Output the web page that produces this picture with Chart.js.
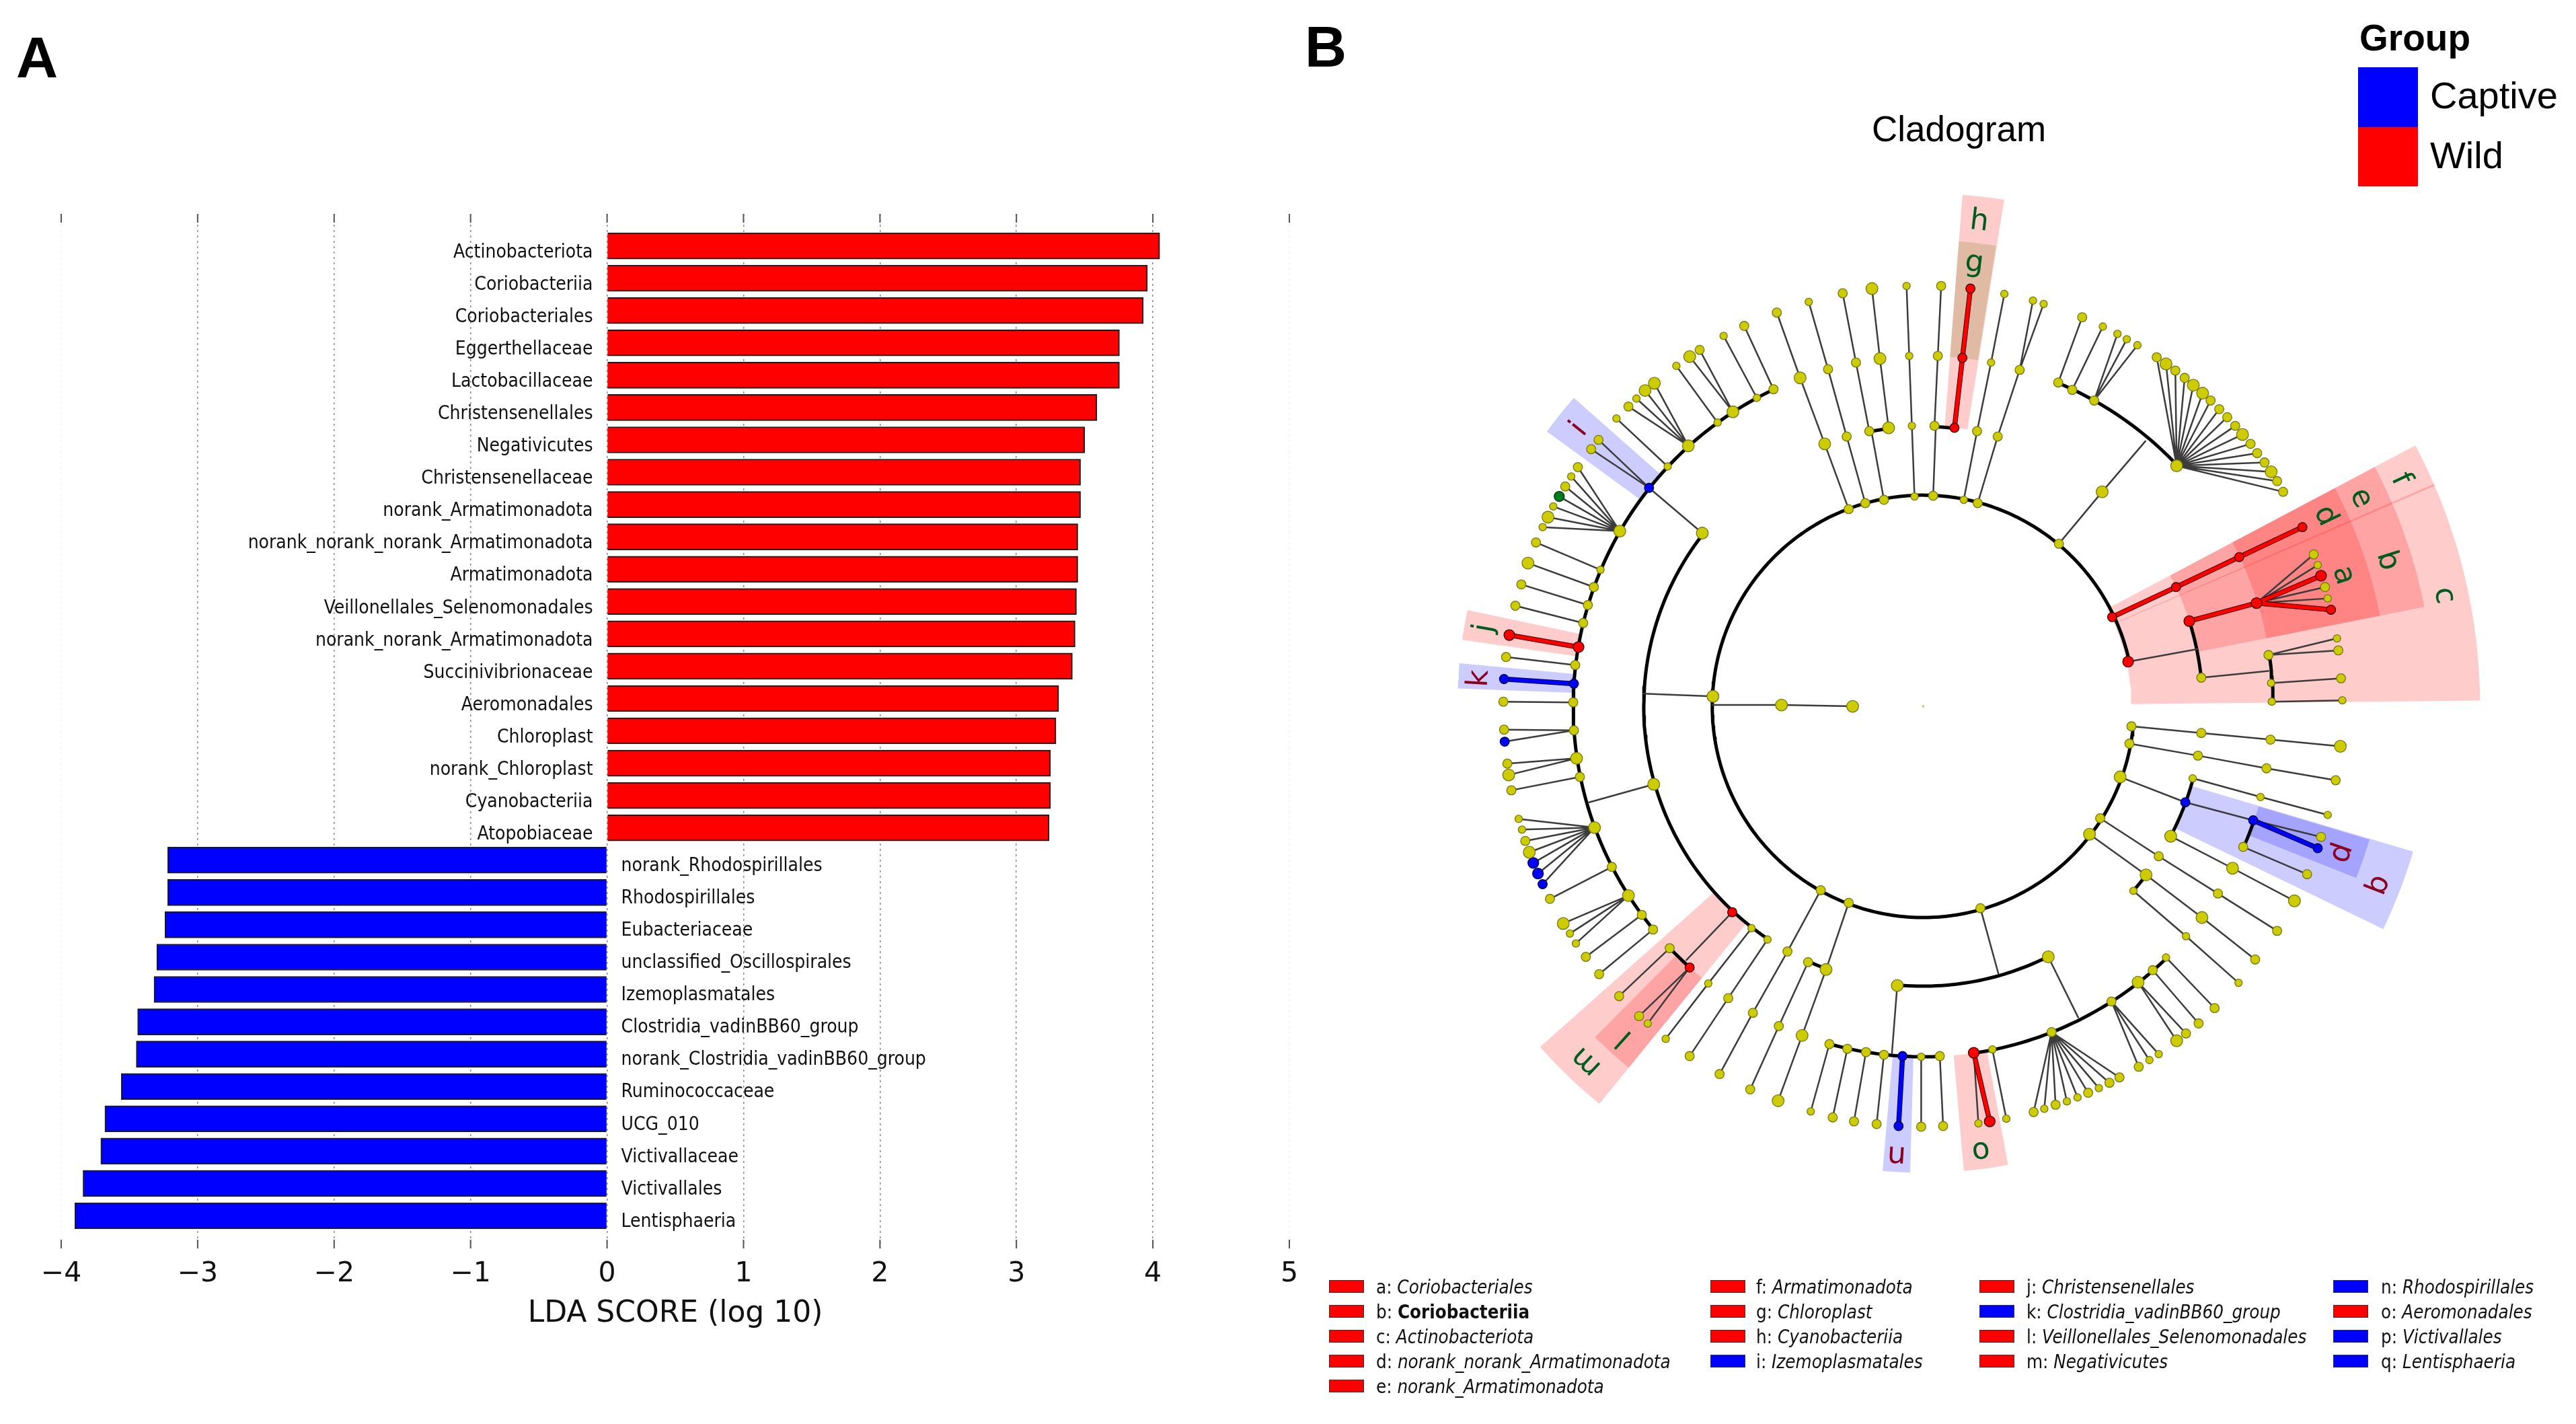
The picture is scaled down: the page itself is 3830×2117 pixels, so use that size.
<!DOCTYPE html>
<html>
<head>
<meta charset="utf-8">
<title>LDA score and cladogram</title>
<script src="https://cdn.jsdelivr.net/npm/chart.js@4/dist/chart.umd.min.js"></script>
<style>
    html, body { margin: 0; background: #fff; width: 3830px; height: 2117px; overflow: hidden; }
    canvas { position: absolute; top: 0; }
    #chartA { left: 0; }
    #chartB { left: 1960px; }
    .txt { position: absolute; white-space: nowrap; color: #000; line-height: 1; }
    .panel { font: bold 86px "Liberation Sans"; }
    .sw { position: absolute; }
    .lg { font-family: "DejaVu Sans"; font-stretch: condensed; font-size: 27.5px; font-style: italic; color: #111; }
    .lg span { font-style: normal; }
    .lg b { font-style: normal; }
    .key { position: absolute; width: 50px; height: 17px; border: 1.5px solid #333; }
</style>
</head>
<body>
<canvas id="chartA" width="1960" height="2117"></canvas>
<canvas id="chartB" width="1870" height="2117"></canvas>
<div id="overlay"></div>
<script>
// panel A
const wildNames = ['Actinobacteriota', 'Coriobacteriia', 'Coriobacteriales', 'Eggerthellaceae', 'Lactobacillaceae',
    'Christensenellales', 'Negativicutes', 'Christensenellaceae', 'norank_Armatimonadota',
    'norank_norank_norank_Armatimonadota', 'Armatimonadota', 'Veillonellales_Selenomonadales',
    'norank_norank_Armatimonadota', 'Succinivibrionaceae', 'Aeromonadales', 'Chloroplast', 'norank_Chloroplast',
    'Cyanobacteriia', 'Atopobiaceae'];
const wildScores = [4.05, 3.96, 3.93, 3.755, 3.755, 3.59, 3.50, 3.47, 3.47, 3.45, 3.45, 3.44, 3.43, 3.41, 3.31, 3.29, 3.25, 3.25, 3.24];
const captiveNames = ['norank_Rhodospirillales', 'Rhodospirillales', 'Eubacteriaceae', 'unclassified_Oscillospirales',
    'Izemoplasmatales', 'Clostridia_vadinBB60_group', 'norank_Clostridia_vadinBB60_group', 'Ruminococcaceae',
    'UCG_010', 'Victivallaceae', 'Victivallales', 'Lentisphaeria'];
const captiveScores = [-3.22, -3.22, -3.24, -3.30, -3.32, -3.44, -3.45, -3.56, -3.68, -3.71, -3.84, -3.90];
const scoreTicks = ['\u22124', '\u22123', '\u22122', '\u22121', '0', '1', '2', '3', '4', '5'];
const scoreTitle = 'LDA SCORE (log 10)';

// panel B, tree values relative to the centre of the tree
const ringArcs = [[317, 12.3, 354.5],
    [420, 141.9, 236.2], [420, 5.9, 17.7], [420, -27.7, -14.9], [420, -41.2, -37.1], [420, 97.1, 101.1],
    [420, 83.6, 87.7], [420, 245.7, 249.7], [420, 264.7, 296.6],
    [526, 43.5, 67.3], [526, 115.3, 219.5], [526, 0.8, 8.4], [526, -23.7, -19], [526, 254.5, 272.7],
    [526, 278.3, 314.1], [526, 223.6, 228.2]];

const branches = [
    [[-106, 0], [-213, 2], [-317, 2]], [[-316, 15], [-420, 19]], [[-332, 260], [-412, 328]],
    [[-384, 360], [-461, 432]], [[-309, 426], [-371, 511]], [[-250, 463], [-300, 556]], [[-225, 476], [-269, 571]],
    [[-485, 205], [-582, 246]], [[-495, 179], [-594, 215]], [[-504, 152], [-604, 183]], [[-511, 125], [-613, 151]],
    [[-523, 62], [-627, 74]], [[-526, 6], [-631, 7]], [[-516, -106], [-619, -126]],
    [[-405, -117], [-502, -144]], [[-468, -241], [-561, -289]], [[-423, -313], [-507, -376]], [[-406, -335], [-487, -402]],
    [[-287, -309], [-356, -381]], [[-381, -363], [-457, -435]],
    [[-141, -507], [-169, -608]], [[-114, -514], [-136, -617]], [[-86, -519], [-104, -623]], [[-59, -523], [-70, -627]],
    [[-3, -526], [-3, -631]], [[25, -525], [30, -630]], [[-39, -419], [-47, -521]], [[86, -303], [113, -401]], [[188, -376], [233, -467]],
    [[76, -520], [83, -626]], [[104, -515], [125, -619]], [[345, -396], [414, -476]], [[365, -377], [438, -453]],
    [[-112, -295], [-146, -395], [-182, -494], [-218, -592]], [[-173, -384], [-217, -480], [-260, -575]],
    [[-154, -276], [-204, -368], [-256, -460], [-306, -552]], [[-258, -333], [-323, -416], [-387, -499]],
    [[-234, -350], [-293, -438], [-351, -525]],
    [[313, -30], [418, -40], [522, -50], [627, -60]], [[310, -56], [413, -74], [516, -93], [620, -111]],
    [[296, -106], [394, -144], [496, -171]], [[405, -108], [507, -136], [608, -163]], [[372, -195], [465, -243], [558, -292]],
    [[496, -171], [598, -196]], [[481, -211], [577, -252]], [[266, -168], [354, -225], [443, -281], [532, -337]],
    [[250, -192], [335, -253], [419, -317], [499, -380]], [[316, -277], [395, -345], [474, -415]],
    [[308, 67], [412, 86]], [[418, 43], [519, 53]], [[523, 35], [628, 42]], [[524, 7], [630, 9]],
    [[204, 244], [269, 322], [334, 398]], [[203, 486], [239, 584]], [[224, 475], [270, 570]],
    [[-59, 310], [-78, 414]], [[-81, 413], [-101, 516], [-121, 620]], [[-52, 418], [-65, 522], [-77, 627]],
    [[15, 316], [19, 421]], [[17, 421], [22, 526], [27, 631]], [[-13, 315], [-17, 421], [-21, 526], [-25, 631]],
    [[61, 310], [81, 413], [102, 516], [122, 619]], [[82, 305], [112, 405], [145, 505]],
    [[-112, 296], [-148, 394], [-185, 493], [-220, 591]], [[-87, 305], [-115, 405], [-143, 506], [-172, 607]]
];

const fans = [
    [[-412, 328], [[-488, 400], [-499, 386]]],
    [[-353, 391], [[-443, 450], [-431, 462], [-418, 474], [-404, 485]]],
    [[-286, 442], [[-351, 525], [-336, 535]]],
    [[-456, 263], [[-519, 359], [-529, 345], [-538, 330], [-547, 315], [-556, 300], [-564, 284], [-572, 269]]],
    [[-525, -36], [[-630, -35], [-629, -53]]],
    [[-521, -78], [[-625, -86], [-623, -103]]],
    [[-494, -182], [[-608, -169], [-603, -185], [-598, -202], [-592, -219], [-586, -235], [-579, -251], [-572, -267]]],
    [[-443, -284], [[-541, -326], [-531, -341], [-522, -356]]],
    [[-351, -392], [[-427, -465], [-414, -476]]],
    [[193, -489], [[166, -609], [182, -604], [199, -598], [216, -593], [232, -587], [248, -580], [264, -573], [280, -565], [295, -557]]],
    [[283, -443], [[324, -541], [340, -531], [354, -522]]],
    [[323, -414], [[381, -502], [395, -491]]],
    [[519, 77], [[622, 102], [624, 84]]],
    [[501, 155], [[587, 228], [593, 212], [604, 179], [608, 162]]],
    [[381, 361], [[351, 524], [365, 514], [379, 504], [393, 493], [406, 482], [420, 470], [432, 459], [445, 446], [457, 434],
        [469, 421], [480, 408], [492, 394], [502, 380], [513, 366], [523, 352], [532, 338], [541, 322]]],
    [[257, 459], [[292, 559], [306, 551], [322, 542]]],
    [[145, 505], [[165, 609], [181, 604]]]
];

const redBranches = [[[284, 134], [380, 179], [475, 224], [570, 269]], [[400, 128], [501, 155], [598, 196]], [[501, 155], [613, 145]],
    [[47, 418], [59, 523], [71, 627]], [[-518, 89], [-622, 107]], [[76, -520], [100, -623]]];
const blueBranches = [[[-525, 34], [-630, 41]], [[-31, -525], [-37, -630]], [[496, -171], [593, -213]]];

const smallNodes = [[-384, 360], [-309, 426], [-250, 463], [-485, 205], [-461, 432], [-431, 462], [-371, 511], [-300, 556],
    [-529, 345], [-556, 300], [-572, 269], [-608, -169], [-603, -185], [-531, -341], [-522, -356], [-414, -476], [-258, -333],
    [-234, -350], [-323, -416], [-387, -499], [-3, -526], [-169, -608], [104, -515], [83, -626], [125, -619],
    [182, -604], [216, -593], [232, -587], [264, -573], [340, -531], [354, -522], [365, -377], [405, -108], [507, -136], [608, -163],
    [316, -277], [395, -345], [474, -415], [523, 35], [524, 7], [622, 102], [630, 9], [593, 212], [608, 162],
    [270, 570], [292, 559], [306, 551], [322, 542], [-172, 607], [-17, 421], [-13, 315], [-21, 526], [-25, 631],
    [61, 310], [102, 516], [122, 619], [165, 609], [181, 604]];
const midNodes = [[-225, 476], [-443, 450], [-336, 535], [-269, 571], [-519, 359], [-538, 330], [-582, 246], [-495, 179],
    [-504, 152], [-511, 125], [-604, 183], [-613, 151], [-523, 62], [-627, 74], [-526, 6], [-631, 7], [-525, -36], [-630, -35],
    [-488, 400], [-499, 386], [-625, -86], [-516, -106], [-619, -126], [-598, -202], [-468, -241], [-561, -289], [-423, -313],
    [-507, -376], [-406, -335], [-487, -402], [-381, -363], [-457, -435], [-427, -465], [-293, -438], [-351, -525],
    [-154, -276], [-204, -368], [-256, -460], [-306, -552], [-112, -295], [-173, -384], [-217, -480], [-260, -575],
    [-141, -507], [-114, -514], [-86, -519], [-59, -523], [25, -525], [-136, -617], [-104, -623], [-70, -627], [-3, -631], [30, -630],
    [193, -489], [283, -443], [345, -396], [166, -609], [199, -598], [248, -580], [280, -565], [295, -557], [324, -541], [395, -491],
    [414, -476], [438, -453], [86, -303], [313, -30], [418, -40], [522, -50], [310, -56], [413, -74], [516, -93], [620, -111],
    [598, -196], [481, -211], [577, -252], [266, -168], [354, -225], [443, -281], [532, -337], [499, -380],
    [418, 43], [519, 77], [624, 84], [628, 42], [587, 228], [604, 179], [204, 244], [257, 459], [224, 475], [203, 486], [239, 584],
    [351, 524], [379, 504], [393, 493], [432, 459], [445, 446], [457, 434], [469, 421], [492, 394], [502, 380], [513, 366], [532, 338], [541, 322],
    [-112, 296], [-220, 591], [-87, 305], [-115, 405], [-143, 506], [-59, 310], [-81, 413], [-101, 516], [-121, 620],
    [15, 316], [17, 421], [22, 526], [27, 631], [81, 413], [82, 305], [112, 405], [145, 505]];
const largeNodes = [[-353, 391], [-286, 442], [-418, 474], [-404, 485], [-351, 525], [-456, 263], [-564, 284], [-594, 215],
    [-521, -78], [-623, -103], [-494, -182], [-592, -219], [-443, -284], [-541, -326], [-332, 260], [-405, -117], [-316, 15], [-213, 2], [-106, 0],
    [-146, -395], [-182, -494], [-218, -592], [-39, -419], [188, -376], [323, -414], [381, -502],
    [627, -60], [296, -106], [372, -195], [465, -243], [558, -292], [250, -192], [335, -253], [419, -317],
    [269, 322], [381, 361], [365, 514], [406, 482], [420, 470], [480, 408], [523, 352],
    [-148, 394], [-185, 493], [-52, 418], [-65, 522], [-77, 627]];
const redMidNodes = [[284, 134], [380, 179], [475, 224], [570, 269], [613, 145], [47, 418], [59, 523], [71, 627], [-287, -309], [-351, -392]];
const redLargeNodes = [[-622, 107], [-518, 89], [308, 67], [400, 128], [501, 155], [598, 196], [76, -520], [100, -623]];
const blueMidNodes = [[-412, 328], [-525, 34], [-630, 41], [-629, -53], [-572, -267], [-31, -525], [-37, -630], [394, -144], [496, -171], [593, -213]];
const blueLargeNodes = [[-586, -235], [-579, -251]];
const greenNodes = [[-547, 315]];
const rootNode = [[0, 0]];

// inner radius, outer radius, from angle, to angle
const redBands = [[313, 837, 0.6, 23.5], [313, 837, 23.3, 27.9], [420, 768, 11.2, 23.4], [420, 768, 23.4, 27.9],
    [526, 700, 11.2, 23.4], [526, 700, 23.4, 27.9], [421, 770, 80.9, 85.6], [526, 700, 168.1, 171.8],
    [421, 770, 221.6, 230.8], [526, 700, 225.2, 230.8], [526, 700, 275, 280.5]];
const chloroplastBand = [[526, 700, 81, 85.6]];
const blueBands = [[526, 700, 138.6, 143.9], [526, 700, 174.7, 177.8], [526, 700, 265, 268.4],
    [421, 768, -25.8, -16.5], [526, 700, -21.6, -16.6]];

// letter, radius, angle
const wildLetters = [['a', 661, 17.3], ['b', 731, 17.4], ['c', 800, 12], ['d', 668, 25.3], ['e', 728, 25.4], ['f', 794, 25.4],
    ['g', 669, 83.4], ['h', 732, 83.4], ['j', 669, 169.9], ['l', 670, 228], ['m', 735, 226.5], ['o', 672, 277.4]];
const captiveLetters = [['i', 663, 141.2], ['k', 668, 176.4], ['n', 674, 266.6], ['p', 666, -19.3], ['q', 735, -21.4]];

const legendColumns = [
    [['a', 'Coriobacteriales', 'r'], ['b', 'Coriobacteriia', 'r'], ['c', 'Actinobacteriota', 'r'], ['d', 'norank_norank_Armatimonadota', 'r'], ['e', 'norank_Armatimonadota', 'r']],
    [['f', 'Armatimonadota', 'r'], ['g', 'Chloroplast', 'r'], ['h', 'Cyanobacteriia', 'r'], ['i', 'Izemoplasmatales', 'b']],
    [['j', 'Christensenellales', 'r'], ['k', 'Clostridia_vadinBB60_group', 'b'], ['l', 'Veillonellales_Selenomonadales', 'r'], ['m', 'Negativicutes', 'r']],
    [['n', 'Rhodospirillales', 'b'], ['o', 'Aeromonadales', 'r'], ['p', 'Victivallales', 'b'], ['q', 'Lentisphaeria', 'b']]
];
const groupNames = ['Captive', 'Wild'];

function toPoints(list) {
    return list.map(function (p) { return { x: p[0], y: p[1] }; });
}

function joinPaths(paths) {
    let out = [];
    paths.forEach(function (path) {
        path.forEach(function (p) { out.push({ x: p[0], y: p[1] }); });
        out.push({ x: NaN, y: NaN });
    });
    return out;
}

function polar(r, deg) {
    let a = deg * Math.PI / 180;
    return [r * Math.cos(a), r * Math.sin(a)];
}

function arcPath(r, from, to) {
    let path = [];
    for (let d = from; d < to; d += 1) path.push(polar(r, d));
    path.push(polar(r, to));
    return path;
}

function bandPath(b) {
    let path = arcPath(b[0], b[2], b[3]).concat(arcPath(b[1], b[2], b[3]).reverse());
    path.push(path[0]);
    return toPoints(path);
}

function lineSet(paths, color, width) {
    return { data: joinPaths(paths), showLine: true, spanGaps: false, pointRadius: 0, borderColor: color, borderWidth: width, borderCapStyle: 'round' };
}

function nodeSet(list, color, edge, radius) {
    return { data: toPoints(list), showLine: false, pointRadius: radius, backgroundColor: color, borderColor: edge, pointBorderWidth: 1.3 };
}

function bandSet(band, color) {
    return { data: bandPath(band), showLine: true, fill: 'shape', pointRadius: 0, borderWidth: 0, borderColor: 'transparent', backgroundColor: color };
}

// bar labels and the short inner ticks of panel A
const labelsAndTicks = {
    id: 'labelsAndTicks',
    afterDraw: function (chart) {
        const ctx = chart.ctx;
        const xs = chart.scales.x;
        const ys = chart.scales.y;
        ctx.save();
        ctx.font = 'condensed 28px "DejaVu Sans"';
        ctx.fillStyle = '#111';
        ctx.textBaseline = 'middle';
        ctx.textAlign = 'right';
        wildNames.forEach(function (name, i) {
            ctx.fillText(name, xs.getPixelForValue(0) - 21, ys.getPixelForValue(i) + 10);
        });
        ctx.textAlign = 'left';
        captiveNames.forEach(function (name, i) {
            ctx.fillText(name, xs.getPixelForValue(0) + 21, ys.getPixelForValue(i + wildNames.length) + 9);
        });
        ctx.strokeStyle = '#555';
        ctx.lineWidth = 2;
        scoreTicks.forEach(function (t, i) {
            let x = xs.getPixelForValue(i - 4);
            ctx.beginPath();
            ctx.moveTo(x, chart.chartArea.top);
            ctx.lineTo(x, chart.chartArea.top + 13);
            ctx.moveTo(x, chart.chartArea.bottom);
            ctx.lineTo(x, chart.chartArea.bottom - 13);
            ctx.stroke();
        });
        ctx.restore();
    }
};

new Chart(document.getElementById('chartA'), {
    type: 'bar',
    data: {
        datasets: [{
            data: wildScores.map(function (v, i) { return { x: v, y: i }; }),
            backgroundColor: '#ff0000'
        }, {
            data: captiveScores.map(function (v, i) { return { x: v, y: i + wildScores.length }; }),
            backgroundColor: '#0000ff'
        }]
    },
    options: {
        indexAxis: 'y',
        responsive: false,
        animation: false,
        devicePixelRatio: 1,
        layout: { padding: { left: 91, right: 43, top: 318, bottom: 0 } },
        datasets: { bar: { barThickness: 39, borderColor: '#1a1a1a', borderWidth: 2, grouped: false } },
        plugins: { legend: { display: false }, tooltip: { enabled: false } },
        scales: {
            x: {
                type: 'linear',
                min: -4,
                max: 5,
                afterFit: function (s) { s.height = 261; },
                grid: {
                    drawTicks: false,
                    lineWidth: 1.5,
                    color: function (c) {
                        return (c.tick && (c.tick.value === -4 || c.tick.value === 5)) ? 'rgba(0,0,0,0.06)' : '#8a8a8a';
                    }
                },
                border: { display: false, dash: [3, 5] },
                ticks: {
                    stepSize: 1,
                    padding: 14,
                    color: '#111',
                    font: { family: 'DejaVu Sans', size: 41 },
                    maxRotation: 0,
                    callback: function (v, i) { return scoreTicks[i]; }
                },
                title: {
                    display: true,
                    text: scoreTitle,
                    color: '#111',
                    font: { family: 'DejaVu Sans', size: 44 },
                    padding: { top: 0, bottom: 137 }
                }
            },
            y: { type: 'linear', display: false, offset: false, reverse: true, min: -0.99, max: 31.01 }
        }
    },
    plugins: [labelsAndTicks]
});

function fanPaths() {
    let out = [];
    fans.forEach(function (f) {
        f[1].forEach(function (leaf) { out.push([f[0], leaf]); });
    });
    return out;
}

// letters sit along the radius, top of the letter pointing out
const cladeLetters = {
    id: 'cladeLetters',
    afterDatasetsDraw: function (chart) {
        const ctx = chart.ctx;
        function put(list, color) {
            list.forEach(function (l) {
                let p = polar(l[1], l[2]);
                ctx.save();
                ctx.translate(chart.scales.x.getPixelForValue(p[0]), chart.scales.y.getPixelForValue(p[1]));
                ctx.rotate((90 - l[2]) * Math.PI / 180);
                ctx.fillStyle = color;
                ctx.font = '44px "DejaVu Sans"';
                ctx.textAlign = 'center';
                ctx.textBaseline = 'middle';
                ctx.fillText(l[0], 0, 0);
                ctx.restore();
            });
        }
        put(wildLetters, '#005c1e');
        put(captiveLetters, '#8b0020');
    }
};

const yellow = '#cccc00';
const yellowEdge = '#77771a';
let cladeSets = [
    nodeSet(rootNode, '#b8b84a', 'transparent', 1.5),
    nodeSet(smallNodes, yellow, yellowEdge, 5.5),
    nodeSet(midNodes, yellow, yellowEdge, 6.8),
    nodeSet(largeNodes, yellow, yellowEdge, 8.8),
    nodeSet(redMidNodes, '#ff0000', '#300', 6.8),
    nodeSet(redLargeNodes, '#ff0000', '#300', 8),
    nodeSet(blueMidNodes, '#0000ff', '#003', 6.8),
    nodeSet(blueLargeNodes, '#0000ff', '#003', 8),
    nodeSet(greenNodes, '#007a1e', '#030', 7.5),
    lineSet(redBranches, '#ff0000', 5.5),
    lineSet(blueBranches, '#0000ff', 5.5),
    lineSet(redBranches, '#400000', 7.5),
    lineSet(blueBranches, '#000040', 7.5),
    lineSet(branches.concat(fanPaths()), '#3c3c3c', 2.5),
    lineSet(ringArcs.map(function (a) { return arcPath(a[0], a[1], a[2]); }), '#000000', 5)
];
chloroplastBand.forEach(function (b) { cladeSets.push(bandSet(b, '#e0baa3')); });
redBands.forEach(function (b) { cladeSets.push(bandSet(b, 'rgba(255,0,0,0.2)')); });
blueBands.forEach(function (b) { cladeSets.push(bandSet(b, 'rgba(0,0,255,0.2)')); });

new Chart(document.getElementById('chartB'), {
    type: 'scatter',
    data: { datasets: cladeSets },
    options: {
        responsive: false,
        animation: false,
        devicePixelRatio: 1,
        layout: { padding: 0 },
        plugins: { legend: { display: false }, tooltip: { enabled: false } },
        scales: {
            x: { type: 'linear', display: false, min: -899, max: 971 },
            y: { type: 'linear', display: false, min: -1067, max: 1050 }
        }
    },
    plugins: [cladeLetters]
});

function addText(text, cls, left, top, extra) {
    let d = document.createElement('div');
    d.className = 'txt ' + cls;
    d.style.left = left + 'px';
    d.style.top = top + 'px';
    d.innerHTML = text;
    if (extra) d.style.cssText += extra;
    document.getElementById('overlay').appendChild(d);
    return d;
}

addText('A', 'panel', 24, 36);
addText('B', 'panel', 1940, 20);
addText('Cladogram', '', 2783, 161, 'font:53px "Liberation Sans";');
addText('Group', '', 3508, 24, 'font:bold 55px "Liberation Sans";');
addText(groupNames[0], '', 3613, 109, 'font:56px "Liberation Sans";');
addText(groupNames[1], '', 3613, 198, 'font:56px "Liberation Sans";');
addText('', 'sw', 3506, 100, 'width:89px;height:89px;background:#0000ff;');
addText('', 'sw', 3506, 189, 'width:89px;height:88px;background:#ff0000;');

const legendKeyX = [1976, 2543, 2943, 3469];
const legendTextX = [2046, 2611, 3013, 3540];
const legendRowY = [1912, 1949, 1986, 2023, 2060];
legendColumns.forEach(function (col, c) {
    col.forEach(function (item, r) {
        let y = legendRowY[r];
        let k = document.createElement('div');
        k.className = 'key';
        k.style.left = legendKeyX[c] + 'px';
        k.style.top = (y - 9) + 'px';
        k.style.background = item[2] === 'r' ? '#ff0000' : '#0000ff';
        document.getElementById('overlay').appendChild(k);
        let name = item[0] === 'b' ? '<b>' + item[1] + '</b>' : item[1];
        addText('<span>' + item[0] + ': </span>' + name, 'lg', legendTextX[c], y - 12);
    });
});
</script>
</body>
</html>
